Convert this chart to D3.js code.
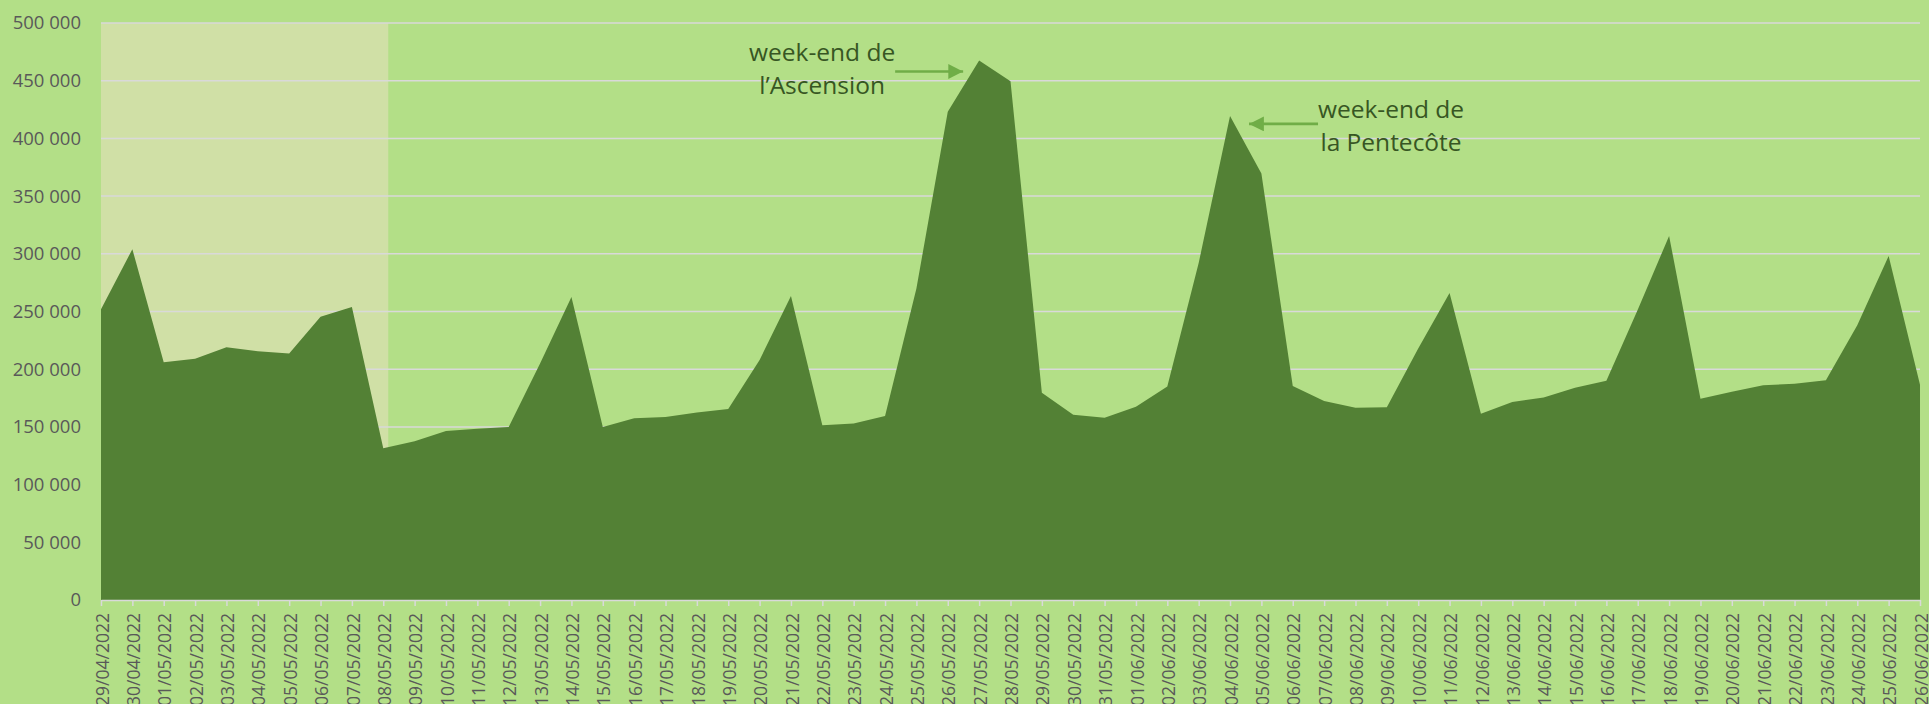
<!DOCTYPE html>
<html>
<head>
<meta charset="utf-8">
<title>Fréquentation quotidienne</title>
<style>
  body { margin: 0; background: #b3df87; overflow: hidden; }
  svg { display: block; font-family: "Open Sans", sans-serif; }
</style>
</head>
<body>
<div id="container"></div>
<script src="https://cdn.jsdelivr.net/npm/d3@7"></script>
<script>
// jours (axe des x)
var dates = ["29/04/2022","30/04/2022","01/05/2022","02/05/2022","03/05/2022","04/05/2022","05/05/2022",
  "06/05/2022","07/05/2022","08/05/2022","09/05/2022","10/05/2022","11/05/2022","12/05/2022","13/05/2022",
  "14/05/2022","15/05/2022","16/05/2022","17/05/2022","18/05/2022","19/05/2022","20/05/2022","21/05/2022",
  "22/05/2022","23/05/2022","24/05/2022","25/05/2022","26/05/2022","27/05/2022","28/05/2022","29/05/2022",
  "30/05/2022","31/05/2022","01/06/2022","02/06/2022","03/06/2022","04/06/2022","05/06/2022","06/06/2022",
  "07/06/2022","08/06/2022","09/06/2022","10/06/2022","11/06/2022","12/06/2022","13/06/2022","14/06/2022",
  "15/06/2022","16/06/2022","17/06/2022","18/06/2022","19/06/2022","20/06/2022","21/06/2022","22/06/2022",
  "23/06/2022","24/06/2022","25/06/2022","26/06/2022"]

// valeurs
var values = [252000, 304000, 206000, 209000, 219000, 215500, 213500, 245500, 254000, 131500,
  137500, 146500, 148500, 150000, 205000, 262500, 150000, 157500, 158500, 162500,
  165500, 208000, 263500, 151500, 153000, 159500, 270000, 423000, 467500, 449500,
  179500, 160500, 158000, 167500, 185000, 292000, 419500, 369500, 185500, 172500,
  166500, 167000, 218000, 266000, 161500, 171500, 175500, 184000, 190000, 251500,
  315500, 174500, 180500, 186000, 187500, 190500, 238000, 298000, 186500]

var yTicks = [0, 50000, 100000, 150000, 200000, 250000, 300000, 350000, 400000, 450000, 500000]

// période grisée
var shadeRange = ["29/04/2022", "08/05/2022"]

var annotations = [
  { lines: ["week-end de", "l\u2019Ascension"], date: "27/05/2022" },
  { lines: ["week-end de", "la Pentec\u00f4te"], date: "04/06/2022" }
]

var width = 1929, height = 704
var mLeft = 101, mRight = 1920, mTop = 23, mBottom = 600

var svg = d3.select('#container').append('svg')
  .attr('width', width).attr('height', height)

svg.append('rect').attr('width', width).attr('height', height).attr('fill', '#b3df87')

var x = d3.scalePoint().domain(dates).range([mLeft, mRight])
var y = d3.scaleLinear().domain([0, 500000]).range([mBottom, mTop])

var fr = d3.formatLocale({ decimal: ",", thousands: " ", grouping: [3], currency: ["", " €"] })
var fmt = fr.format(",d")

// zone grisée
svg.append('rect')
  .attr('x', x(shadeRange[0]))
  .attr('y', mTop)
  .attr('width', x(shadeRange[1]) - x(shadeRange[0]) + 5)
  .attr('height', mBottom - mTop)
  .attr('fill', '#d0e0a6')

// quadrillage
svg.append('g').selectAll('line').data(yTicks.slice(1)).enter().append('line')
  .attr('x1', mLeft).attr('x2', mRight)
  .attr('y1', function(d){ return y(d) }).attr('y2', function(d){ return y(d) })
  .attr('stroke', '#d9d9d9').attr('stroke-width', 1.5)

// aire
var area = d3.area()
  .x(function(d, i){ return x(dates[i]) })
  .y0(mBottom)
  .y1(function(d){ return y(d) })

svg.append('path').datum(values).attr('d', area).attr('fill', '#538135')

// axe y
var yAxis = d3.axisLeft(y).tickValues(yTicks).tickFormat(fmt).tickSize(0).tickPadding(20)
var gy = svg.append('g').attr('transform', 'translate(' + mLeft + ',0)').call(yAxis)
gy.select('.domain').remove()
gy.selectAll('text').attr('fill', '#595959').style('font-size', '18.5px').style('font-family', '"Open Sans", sans-serif')

// axe x
var xAxis = d3.axisBottom(x).tickSize(6).tickSizeOuter(0)
var gx = svg.append('g').attr('transform', 'translate(0,' + mBottom + ')').call(xAxis)
gx.select('.domain').attr('stroke', '#d9d9d9').attr('stroke-width', 1.5)
gx.selectAll('.tick line').attr('stroke', '#d9d9d9').attr('stroke-width', 1.5)
gx.selectAll('text')
  .attr('fill', '#595959')
  .style('font-size', '17.5px')
  .style('font-family', '"Open Sans", sans-serif')
  .attr('text-anchor', 'end')
  .attr('transform', 'rotate(-90)')
  .attr('x', -13).attr('y', 1).attr('dy', '0.35em')

// flèches
var defs = svg.append('defs')
defs.append('marker').attr('id', 'head')
  .attr('viewBox', '0 0 10 10').attr('refX', 10).attr('refY', 5)
  .attr('markerWidth', 5.5).attr('markerHeight', 5.5).attr('orient', 'auto')
  .append('path').attr('d', 'M0,0L10,5L0,10Z').attr('fill', '#70ad47')

var a1 = annotations[0], a2 = annotations[1]
var i1 = dates.indexOf(a1.date), i2 = dates.indexOf(a2.date)
var p1 = [x(a1.date), y(values[i1])], p2 = [x(a2.date), y(values[i2])]

svg.append('line')
  .attr('x1', p1[0] - 84).attr('y1', p1[1] + 11)
  .attr('x2', p1[0] - 16).attr('y2', p1[1] + 11)
  .attr('stroke', '#70ad47').attr('stroke-width', 2.7).attr('marker-end', 'url(#head)')
svg.append('line')
  .attr('x1', p2[0] + 88).attr('y1', p2[1] + 8)
  .attr('x2', p2[0] + 19).attr('y2', p2[1] + 8)
  .attr('stroke', '#70ad47').attr('stroke-width', 2.7).attr('marker-end', 'url(#head)')

var t1 = svg.append('text').attr('x', p1[0] - 157).attr('y', p1[1])
  .attr('text-anchor', 'middle').attr('fill', '#375623').style('font-size', '24.5px')
t1.selectAll('tspan').data(a1.lines).enter().append('tspan')
  .attr('x', p1[0] - 157).attr('dy', function(d, i){ return i ? 33 : 0 }).text(function(d){ return d })

var t2 = svg.append('text').attr('x', p2[0] + 161).attr('y', p2[1] + 2)
  .attr('text-anchor', 'middle').attr('fill', '#375623').style('font-size', '24.5px')
t2.selectAll('tspan').data(a2.lines).enter().append('tspan')
  .attr('x', p2[0] + 161).attr('dy', function(d, i){ return i ? 33 : 0 }).text(function(d){ return d })
</script>
</body>
</html>
